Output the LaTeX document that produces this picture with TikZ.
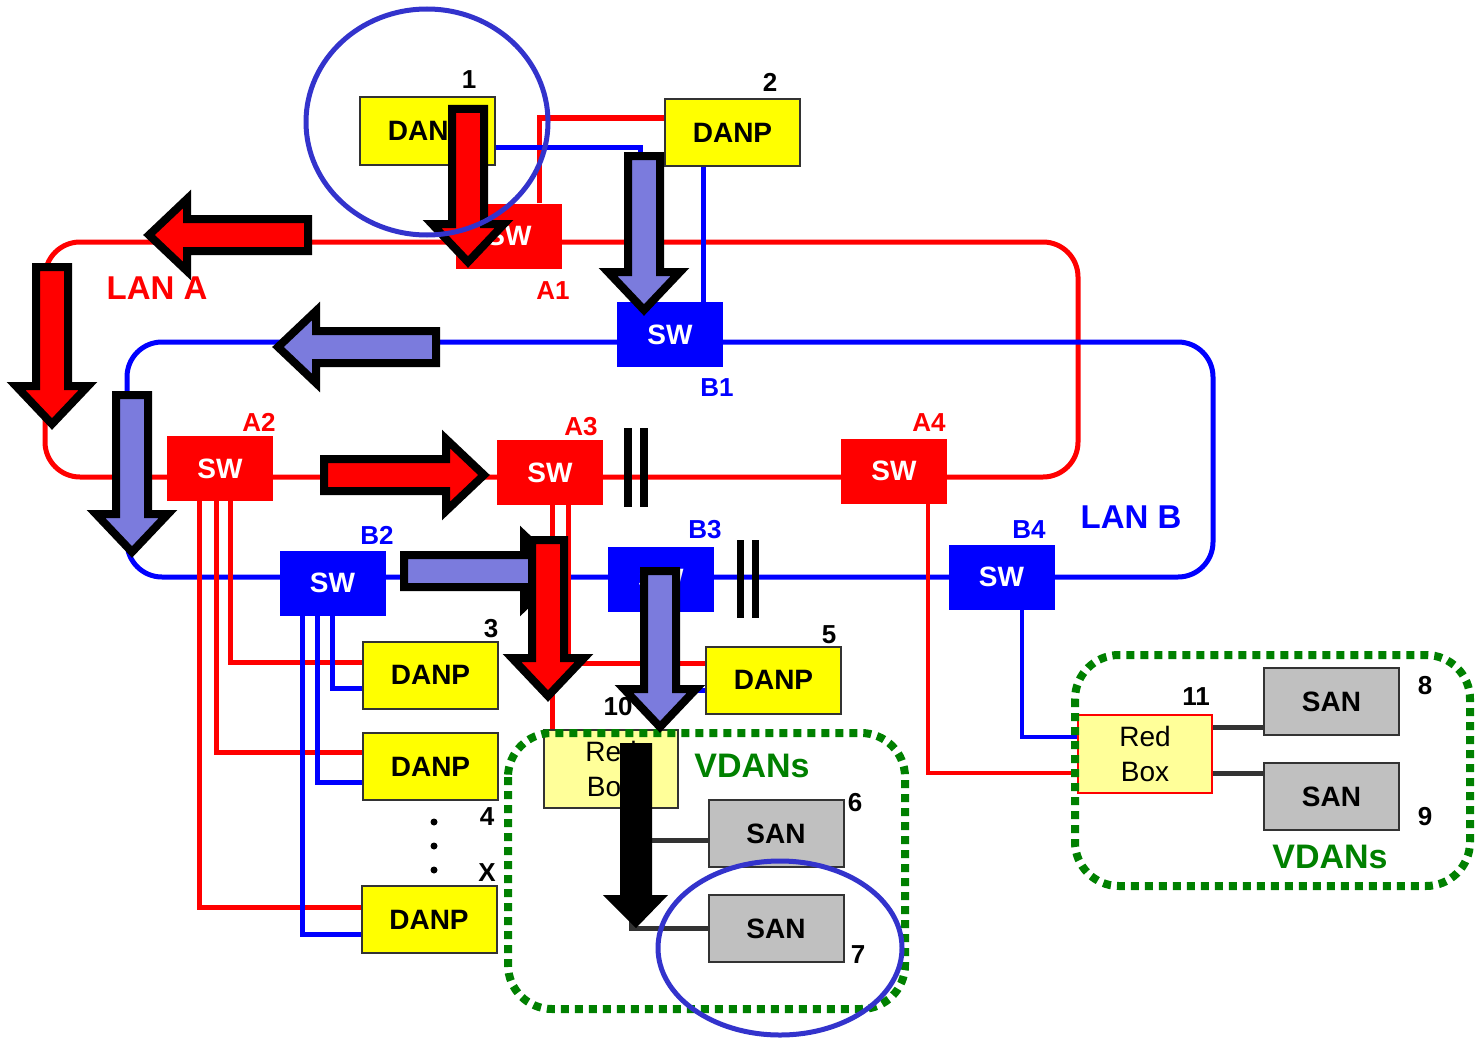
\documentclass[tikz,border=0pt]{standalone}
\usepackage{fontspec}
\setmainfont{Liberation Sans}
\usetikzlibrary{calc,backgrounds}
\definecolor{lanred}{HTML}{FF0000}
\definecolor{lanblue}{HTML}{0000FF}
\definecolor{danpyel}{HTML}{FFFF00}
\definecolor{rbyel}{HTML}{FFFF99}
\definecolor{sangray}{HTML}{C0C0C0}
\definecolor{flowblue}{HTML}{7B7BDD}
\definecolor{vdangreen}{HTML}{008000}
\definecolor{ringcol}{HTML}{3333CC}
\newcommand{\flowarrow}[5]{% #1 fill, #2 x, #3 y, #4 angle, #5 length
  \begin{scope}[shift={(#2,#3)}, rotate=#4]
    \draw[fill=#1, draw=black, line width=4pt, line join=miter] (0,-16) -- (#5-38,-16) -- (#5-38,-36) -- (#5,0) -- (#5-38,36) -- (#5-38,16) -- (0,16) -- cycle;
  \end{scope}
}

\begin{document}
\begin{tikzpicture}[x=0.5pt, y=-0.5pt,
    every node/.style={font=\fontsize{14}{16}\selectfont\bfseries},
    swa/.style={fill=lanred, text=white, minimum width=53pt, minimum height=32.5pt, inner sep=0pt},
    swb/.style={swa, fill=lanblue},
    danp/.style={draw=black!80, line width=1pt, fill=danpyel, minimum width=67.5pt, minimum height=33.5pt, inner sep=0pt},
    san/.style={danp, fill=sangray},
    redbox/.style={draw=black!80, line width=1pt, fill=rbyel, minimum width=67pt, minimum height=39pt, inner sep=0pt, align=center, font=\fontsize{14}{17.5}\selectfont},
    lana/.style={draw=lanred, line width=2.5pt},
    lanb/.style={draw=lanblue, line width=2.5pt},
    sanlink/.style={draw=black!80, line width=2.5pt},
    tag/.style={inner sep=0pt, font=\fontsize{13}{15}\selectfont\bfseries},
    taga/.style={inner sep=0pt, text=lanred, font=\fontsize{13}{15}\selectfont\bfseries},
    tagb/.style={taga, text=lanblue},
    vdan/.style={draw=vdangreen, line width=4pt, dash pattern=on 4pt off 3pt, rounded corners=22pt},
    ring/.style={draw=ringcol, line width=2.5pt}]
  \useasboundingbox (0,0) rectangle (1476,1038);

  % switches
  \node[swa] (A1) at (509,236) {SW};
  \node[swb] (B1) at (670,334.5) {SW};
  \node[swa] (A2) at (220,468.5) {SW};
  \node[swa] (A3) at (550,472.5) {SW};
  \node[swa] (A4) at (894,471) {SW};
  \node[swb] (B2) at (332.5,583) {SW};
  \node[swb] (B3) at (661,579) {SW};
  \node[swb] (B4) at (1001.5,577) {SW};

  % doubly attached nodes
  \node[danp] (D1) at (427.5,131) {DANP};
  \node[danp] (D2) at (732.5,132.5) {DANP};
  \node[danp] (D3) at (430.5,675) {DANP};
  \node[danp] (D4) at (430.5,766.5) {DANP};
  \node[danp] (DX) at (429,919.5) {DANP};
  \node[danp] (D5) at (773.5,680) {DANP};

  % red boxes and singly attached nodes
  \node[redbox] (RB10) at (611,769) {Red\\Box};
  \node[redbox, draw=lanred] (RB11) at (1145,754) {Red\\Box};
  \node[san] (S6) at (776,833.5) {SAN};
  \node[san] (S7) at (776,928.5) {SAN};
  \node[san] (S8) at (1331.5,701.5) {SAN};
  \node[san] (S9) at (1331.5,796.5) {SAN};

  % labels
  \node[taga] (tA1) at (553,291) {A1};
  \node[tagb] (tB1) at (717,388) {B1};
  \node[taga] (tA2) at (259,422) {A2};
  \node[taga] (tA3) at (581,427) {A3};
  \node[taga] (tA4) at (929,423) {A4};
  \node[tagb] (tB2) at (377,535) {B2};
  \node[tagb] (tB3) at (705,530) {B3};
  \node[tagb] (tB4) at (1029,530) {B4};
  \node[taga, font=\fontsize{16.5}{18}\selectfont\bfseries] (lanA) at (157,288) {LAN A};
  \node[tagb, font=\fontsize{16.5}{18}\selectfont\bfseries] (lanB) at (1131,517) {LAN B};
  \node[tag] (n1) at (469,80) {1};
  \node[tag] (n2) at (770,82) {2};
  \node[tag] (n3) at (491,629) {3};
  \node[tag] (n4) at (487,817) {4};
  \node[tag] (nX) at (487,873) {X};
  \node[tag] (n5) at (829,635) {5};
  \node[tag] (n10) at (618,707) {10};
  \node[tag] (n6) at (855,803) {6};
  \node[tag] (n7) at (858,955) {7};
  \node[tag] (n11) at (1196,697) {11};
  \node[tag] (n8) at (1425,686) {8};
  \node[tag] (n9) at (1425,817) {9};
  \node[tag, text=vdangreen, font=\fontsize{17}{19}\selectfont\bfseries] (vd1) at (752,766) {VDANs};
  \node[tag, text=vdangreen, font=\fontsize{17}{19}\selectfont\bfseries] (vd2) at (1330,857) {VDANs};

  % rings and links
  \begin{scope}[on background layer]
    \draw[lana, rounded corners=17.5pt] (45,242) rectangle (1078,477);
    \draw[lanb, rounded corners=17.5pt] (127,342) rectangle (1213,577);
    \draw[lana] ($(A1.north)+(30,0)$) |- ($(D2.west)+(0,-14.5)$);
    \draw[lanb] ($(D1.east)+(0,16)$) -| ($(B1.north)+(-30,0)$);
    \draw[lanb] ($(D2.south)+(-29.5,0)$) -- ($(B1.north)+(33,0)$);
    \draw[lana] ($(A2.south)+(10,0)$) |- ($(D3.west)+(0,-13)$);
    \draw[lana] ($(A2.south)+(-4,0)$) |- ($(D4.west)+(0,-14.5)$);
    \draw[lana] ($(A2.south)+(-21,0)$) |- ($(DX.west)+(0,-12.5)$);
    \draw[lanb] ($(B2.south)+(0,0)$) |- ($(D3.west)+(0,13)$);
    \draw[lanb] ($(B2.south)+(-15,0)$) |- ($(D4.west)+(0,15.5)$);
    \draw[lanb] ($(B2.south)+(-30,0)$) |- ($(DX.west)+(0,14.5)$);
    \draw[lana] ($(A3.south)+(18,0)$) |- ($(D5.west)+(0,-17)$);
    \draw[lana] ($(A3.south)+(2,0)$) -- ($(RB10.north)+(-59,0)$);
    \draw[lanb] ($(B3.south)+(-1,0)$) |- ($(D5.west)+(0,10)$);
    \draw[lana, line width=1.75pt] ($(A4.south)+(34,0)$) |- ($(RB11.west)+(0,19)$);
    \draw[lanb, line width=1.75pt] ($(B4.south)+(20.5,0)$) |- ($(RB11.west)+(0,-17)$);
    \draw[sanlink] ($(RB11.east)+(0,-27)$) -- ($(S8.west)+(0,25.5)$);
    \draw[sanlink] ($(RB11.east)+(0,19)$) -- ($(S9.west)+(0,-23.5)$);
    \draw[sanlink] ($(RB10.south)+(20,0)$) |- (S7.west);
    \draw[sanlink] ($(RB10.south)+(20,0)$) |- ($(S6.west)+(0,6.5)$);
  \end{scope}

  % breaks
  \fill (624,428) rectangle (632,507);
  \fill (640,428) rectangle (648,507);
  \fill (737,540) rectangle (744,618);
  \fill (752,540) rectangle (759,618);
  \fill (434,822) circle (3.5);
  \fill (434,846) circle (3.5);
  \fill (434,870) circle (3.5);

  % VDAN groups
  \draw[vdan] (508,733) rectangle (905,1009);
  \draw[vdan] (1075,655) rectangle (1470,886);

  % flow arrows
  \flowarrow{lanred}{468}{109}{-90}{153}
  \flowarrow{lanred}{308}{235}{180}{159}
  \flowarrow{lanred}{52}{267}{-90}{157}
  \flowarrow{flowblue}{436}{347}{180}{158}
  \flowarrow{flowblue}{132}{395}{-90}{157}
  \flowarrow{lanred}{324}{475}{0}{160}
  \flowarrow{flowblue}{404}{571}{0}{158}
  \flowarrow{lanred}{548}{540}{-90}{156}
  \flowarrow{flowblue}{644}{156}{-90}{154}
  \flowarrow{flowblue}{660}{571}{-90}{156}
  \fill (620,743) -- (620,895) -- (603,895) -- (636,928) -- (668,895) -- (652,895) -- (652,743) -- cycle;

  % highlight rings
  \draw[ring] (427,122) ellipse [x radius=121, y radius=113];
  \draw[ring] (780,948) ellipse [x radius=122, y radius=87];
\end{tikzpicture}
\end{document}
